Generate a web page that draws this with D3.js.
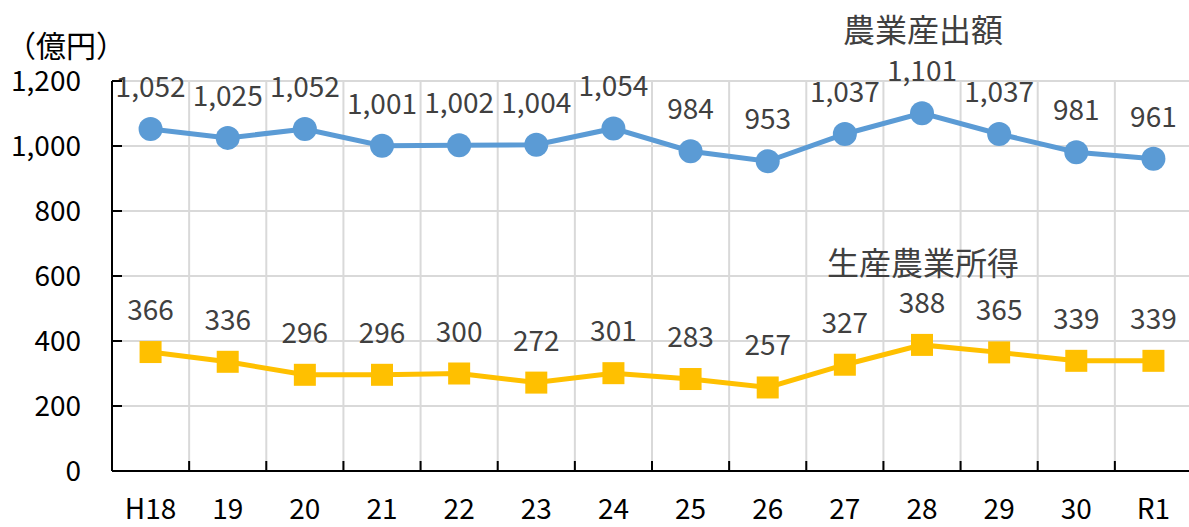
<!DOCTYPE html>
<html>
<head>
<meta charset="utf-8">
<script src="https://cdn.jsdelivr.net/npm/d3@7"></script>
<style>
  body { margin: 0; background: #fff; }
  text { font-family: "Noto Sans CJK JP", "Noto Sans", sans-serif; }
</style>
</head>
<body>
<script>
const years = ["H18", "19", "20", "21", "22", "23", "24", "25", "26", "27", "28", "29", "30", "R1"];
const output = [1052, 1025, 1052, 1001, 1002, 1004, 1054, 984, 953, 1037, 1101, 1037, 981, 961];
const income = [366, 336, 296, 296, 300, 272, 301, 283, 257, 327, 388, 365, 339, 339];
const yTicks = [0, 200, 400, 600, 800, 1000, 1200];

const width = 1189;
const height = 527;
const margin = { top: 81, right: -3, bottom: 56, left: 112 };

const svg = d3.select("body")
    .append("svg")
    .attr("width", width)
    .attr("height", height);

const x = d3.scaleBand()
    .domain(years)
    .range([margin.left, width - margin.right]);

const y = d3.scaleLinear()
    .domain([0, 1200])
    .range([height - margin.bottom, margin.top]);

// gridlines
svg.selectAll(".hgrid")
    .data(yTicks.filter((d) => d > 0))
    .enter()
    .append("line")
    .attr("x1", margin.left)
    .attr("x2", width)
    .attr("y1", (d) => y(d))
    .attr("y2", (d) => y(d))
    .attr("stroke", "#d9d9d9")
    .attr("stroke-width", 2);

svg.selectAll(".vgrid")
    .data(years.slice(1))
    .enter()
    .append("line")
    .attr("x1", (d) => x(d))
    .attr("x2", (d) => x(d))
    .attr("y1", y(1200))
    .attr("y2", y(0))
    .attr("stroke", "#d9d9d9")
    .attr("stroke-width", 2);

// axes
svg.append("line")
    .attr("x1", margin.left).attr("x2", margin.left)
    .attr("y1", y(1200)).attr("y2", y(0))
    .attr("stroke", "#000").attr("stroke-width", 2);

svg.append("line")
    .attr("x1", margin.left).attr("x2", width)
    .attr("y1", y(0)).attr("y2", y(0))
    .attr("stroke", "#000").attr("stroke-width", 2);

svg.selectAll(".ytick")
    .data(yTicks)
    .enter()
    .append("line")
    .attr("x1", margin.left).attr("x2", margin.left + 10)
    .attr("y1", (d) => y(d)).attr("y2", (d) => y(d))
    .attr("stroke", "#000").attr("stroke-width", 2);

svg.selectAll(".xtick")
    .data(years.slice(1))
    .enter()
    .append("line")
    .attr("x1", (d) => x(d)).attr("x2", (d) => x(d))
    .attr("y1", y(0)).attr("y2", y(0) - 10)
    .attr("stroke", "#000").attr("stroke-width", 2);

const fmt = d3.format(",");

svg.selectAll(".ylab")
    .data(yTicks)
    .enter()
    .append("text")
    .attr("x", 81)
    .attr("y", (d) => y(d) + 10)
    .attr("text-anchor", "end")
    .attr("font-size", 28)
    .attr("fill", "#000")
    .text((d) => fmt(d));

svg.selectAll(".xlab")
    .data(years)
    .enter()
    .append("text")
    .attr("x", (d) => x(d) + x.bandwidth() / 2)
    .attr("y", 519)
    .attr("text-anchor", "middle")
    .attr("font-size", 28)
    .attr("fill", "#000")
    .text((d) => d);

svg.append("text")
    .attr("x", 6)
    .attr("y", 57)
    .attr("font-size", 30)
    .attr("fill", "#000")
    .text("（億円）");

const cx = (i) => x(years[i]) + x.bandwidth() / 2;

// series
const line = d3.line().x((d, i) => cx(i)).y((d) => y(d));

svg.append("path")
    .datum(output)
    .attr("d", line)
    .attr("fill", "none")
    .attr("stroke", "#5b9bd5")
    .attr("stroke-width", 5);

svg.append("path")
    .datum(income)
    .attr("d", line)
    .attr("fill", "none")
    .attr("stroke", "#ffc000")
    .attr("stroke-width", 5);

svg.selectAll(".dot")
    .data(output)
    .enter()
    .append("circle")
    .attr("cx", (d, i) => cx(i))
    .attr("cy", (d) => y(d))
    .attr("r", 12)
    .attr("fill", "#5b9bd5");

svg.selectAll(".sq")
    .data(income)
    .enter()
    .append("rect")
    .attr("x", (d, i) => cx(i) - 11)
    .attr("y", (d) => y(d) - 11)
    .attr("width", 22)
    .attr("height", 22)
    .attr("fill", "#ffc000");

// data labels
svg.selectAll(".olab")
    .data(output)
    .enter()
    .append("text")
    .attr("x", (d, i) => cx(i))
    .attr("y", (d) => y(d) - 32)
    .attr("text-anchor", "middle")
    .attr("font-size", 28)
    .attr("fill", "#404040")
    .text((d) => fmt(d));

svg.selectAll(".ilab")
    .data(income)
    .enter()
    .append("text")
    .attr("x", (d, i) => cx(i))
    .attr("y", (d) => y(d) - 32)
    .attr("text-anchor", "middle")
    .attr("font-size", 28)
    .attr("fill", "#404040")
    .text((d) => d);

// series names
svg.append("text")
    .attr("x", 923)
    .attr("y", 42)
    .attr("text-anchor", "middle")
    .attr("font-size", 32)
    .attr("fill", "#404040")
    .text("農業産出額");

svg.append("text")
    .attr("x", 923)
    .attr("y", 275)
    .attr("text-anchor", "middle")
    .attr("font-size", 32)
    .attr("fill", "#404040")
    .text("生産農業所得");
</script>
</body>
</html>
